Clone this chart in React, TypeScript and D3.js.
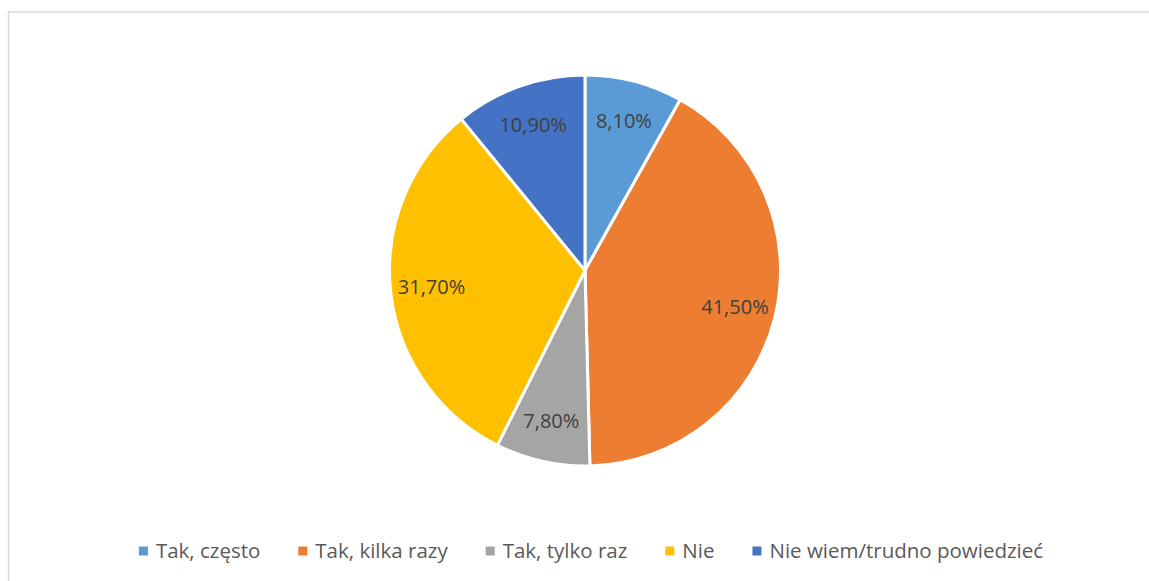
import React, { useEffect, useRef } from "react";
import * as d3 from "d3";

const categories = ["Tak, często", "Tak, kilka razy", "Tak, tylko raz", "Nie", "Nie wiem/trudno powiedzieć"];
const values = [8.1, 41.5, 7.8, 31.7, 10.9];
const labels = ["8,10%", "41,50%", "7,80%", "31,70%", "10,90%"];
const colors = ["#5B9BD5", "#ED7D31", "#A5A5A5", "#FFC000", "#4472C4"];

const W = 1149;
const H = 581;
const FONT = "'Open Sans', 'Noto Sans', sans-serif";

export default function App() {
  const ref = useRef<SVGSVGElement>(null);

  useEffect(() => {
    const svg = d3.select(ref.current!);
    svg.selectAll("*").remove();

    svg.append("rect")
      .attr("x", 0).attr("y", 0).attr("width", W).attr("height", H)
      .attr("fill", "#ffffff");

    svg.append("rect")
      .attr("x", 8.5).attr("y", 12).attr("width", W + 20).attr("height", H + 20)
      .attr("fill", "none").attr("stroke", "#d9d9d9").attr("stroke-width", 1.5);

    const cx = 585, cy = 270.5, r = 195.5;
    const pie = d3.pie<number>().sort(null).value((d) => d)(values);
    const arc = d3.arc<d3.PieArcDatum<number>>().innerRadius(0).outerRadius(r);
    const labelArc = d3.arc<d3.PieArcDatum<number>>().innerRadius(r * 0.79).outerRadius(r * 0.79);

    const g = svg.append("g").attr("transform", `translate(${cx},${cy})`);
    g.selectAll("path.slice")
      .data(pie)
      .join("path")
      .attr("class", "slice")
      .attr("d", arc)
      .attr("fill", (_d, i) => colors[i])
      .attr("stroke", "#ffffff")
      .attr("stroke-width", 3)
      .attr("stroke-linejoin", "round");

    g.selectAll("text.lbl")
      .data(pie)
      .join("text")
      .attr("class", "lbl")
      .attr("transform", (d) => `translate(${labelArc.centroid(d)})`)
      .attr("text-anchor", "middle")
      .attr("dy", "0.35em")
      .attr("font-family", FONT)
      .attr("font-size", 20)
      .attr("fill", "#404040")
      .text((_d, i) => labels[i]);

    // legend
    const lg = svg.append("g");
    const legendY = 551;
    const markerSize = 9;
    const textGap = 8;
    const itemGap = 38;
    const items = categories.map((c, i) => {
      const t = lg.append("text")
        .attr("font-family", FONT)
        .attr("font-size", 20.5)
        .attr("fill", "#595959")
        .attr("dy", "0.35em")
        .text(c);
      const w = (t.node() as SVGTextElement).getComputedTextLength();
      return { t, w, i };
    });
    const total = items.reduce((s, it) => s + markerSize + textGap + it.w, 0) + itemGap * (items.length - 1);
    let x = 591 - total / 2;
    items.forEach((it) => {
      lg.append("rect")
        .attr("x", x).attr("y", legendY - markerSize / 2)
        .attr("width", markerSize).attr("height", markerSize)
        .attr("fill", colors[it.i]);
      it.t.attr("x", x + markerSize + textGap).attr("y", legendY);
      x += markerSize + textGap + it.w + itemGap;
    });
  }, []);

  return (
    <svg
      ref={ref}
      width={W}
      height={H}
      style={{ position: "absolute", left: 0, top: 0, display: "block" }}
    />
  );
}
